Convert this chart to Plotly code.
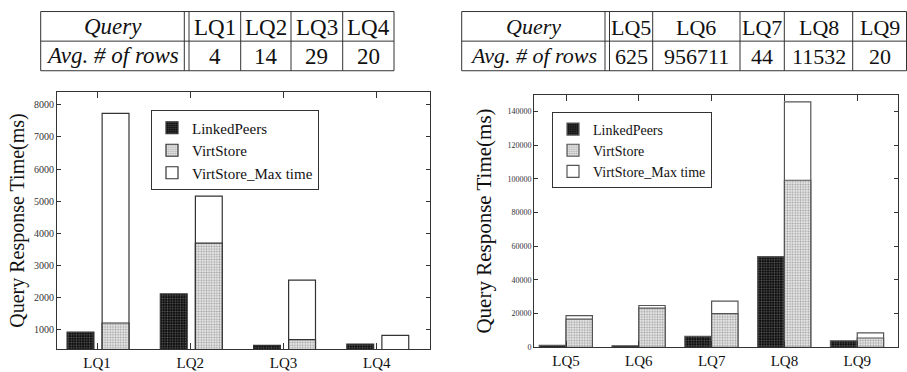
import plotly.graph_objects as go

# ---------------- data ----------------
queries_left = ["LQ1", "LQ2", "LQ3", "LQ4"]
rows_left = ["4", "14", "29", "20"]
linkedpeers_left = [930, 2120, 520, 560]
virtstore_left = [1215, 3700, 700, 350]
virtstore_max_left = [7730, 5160, 2550, 830]

queries_right = ["LQ5", "LQ6", "LQ7", "LQ8", "LQ9"]
rows_right = ["625", "956711", "44", "11532", "20"]
linkedpeers_right = [1200, 900, 6500, 53800, 3800]
virtstore_right = [16700, 23200, 20000, 99200, 5500]
virtstore_max_right = [18800, 24800, 27400, 145800, 8500]

left_yticks = [1000, 2000, 3000, 4000, 5000, 6000, 7000, 8000]
right_yticks = [0, 20000, 40000, 60000, 80000, 100000, 120000, 140000]

W, H = 907, 372
SERIF = "Liberation Serif, Times New Roman, serif"


def px(x):
    return x / W


def py(y):
    return 1 - y / H


fig = go.Figure()

lp_pattern = dict(shape=".", bgcolor="#0a0a0a", fgcolor="#5e5e5e", size=2.6, solidity=0.35, fillmode="replace")
vs_pattern = dict(shape=".", bgcolor="#e8e8e8", fgcolor="#9a9a9a", size=2.6, solidity=0.35, fillmode="replace")


def add_panel(cats, lp, vs, vmax, xa, ya, leg, lp_off, vs_off, bw, line_col):
    fig.add_trace(go.Bar(
        x=cats, y=vmax, name="VirtStore_Max time", xaxis=xa, yaxis=ya, legend=leg,
        offset=vs_off, width=bw, legendrank=3,
        marker=dict(color="white", line=dict(color=line_col, width=1.2)),
    ))
    fig.add_trace(go.Bar(
        x=cats, y=vs, name="VirtStore", xaxis=xa, yaxis=ya, legend=leg,
        offset=vs_off, width=bw, legendrank=2,
        marker=dict(color="#e8e8e8", pattern=vs_pattern, line=dict(color=line_col, width=1.2)),
    ))
    fig.add_trace(go.Bar(
        x=cats, y=lp, name="LinkedPeers", xaxis=xa, yaxis=ya, legend=leg,
        offset=lp_off, width=bw, legendrank=1,
        marker=dict(color="#0a0a0a", pattern=lp_pattern, line=dict(color=line_col, width=1.2)),
    ))


add_panel(queries_left, linkedpeers_left, virtstore_left, virtstore_max_left,
          "x", "y", "legend", -0.322, 0.054, 0.288, "#333333")
add_panel(queries_right, linkedpeers_right, virtstore_right, virtstore_max_right,
          "x2", "y2", "legend2", -0.368, 0.0, 0.362, "#555555")

axis_common = dict(showline=True, linecolor="#333333", linewidth=1, mirror="ticks",
                   ticks="inside", tickcolor="#333333", showgrid=False, zeroline=False)

fig.update_layout(
    width=W, height=H, margin=dict(l=0, r=0, t=0, b=0),
    paper_bgcolor="white", plot_bgcolor="white",
    barmode="overlay", showlegend=True,
    font=dict(family=SERIF, color="#111111"),
    xaxis=dict(domain=[px(57), px(430)], anchor="y", range=[-0.43, 3.57],
               tickfont=dict(size=15, family=SERIF, color="#111"), ticklen=6, **axis_common),
    yaxis=dict(domain=[py(354), py(93)], anchor="x", range=[400, 8400],
               tickvals=left_yticks, tickformat="d",
               tickfont=dict(size=10, family=SERIF, color="#333"), ticklen=4,
               title=dict(text="Query Response Time(ms)", font=dict(size=20, family=SERIF, color="#111"), standoff=3),
               **axis_common),
    xaxis2=dict(domain=[px(534), px(898)], anchor="y2", range=[-0.44, 4.56],
                tickfont=dict(size=15, family=SERIF, color="#111"), ticklen=6, **axis_common),
    yaxis2=dict(domain=[py(352), py(96)], anchor="x2", range=[0, 150000],
                tickvals=right_yticks, tickformat="d",
                tickfont=dict(size=8, family=SERIF, color="#333"), ticklen=4,
                title=dict(text="Query Response Time(ms)", font=dict(size=21, family=SERIF, color="#111"), standoff=10),
                **axis_common),
    legend=dict(x=px(151), y=py(112), xanchor="left", yanchor="top",
                bordercolor="#333", borderwidth=1, bgcolor="white",
                font=dict(size=15, family=SERIF, color="#111"), tracegroupgap=0,
                itemwidth=30),
    legend2=dict(x=px(552), y=py(114), xanchor="left", yanchor="top",
                 bordercolor="#333", borderwidth=1, bgcolor="white",
                 font=dict(size=14, family=SERIF, color="#111"), tracegroupgap=0,
                 itemwidth=30),
)

# ---------------- tables (drawn as layout lines + text) ----------------
line_style = dict(color="#333333", width=1)


def add_text(text, x, y, fs):
    fig.add_annotation(text=text, x=px(x), y=py(y), xref="paper", yref="paper",
                       xanchor="center", yanchor="middle", showarrow=False,
                       font=dict(size=fs, family=SERIF, color="#111"))


def draw_table(x_edges, y_top, y_mid, y_bot, x_first_left, x_first_right, heads, vals, fs):
    fig.add_shape(type="rect", xref="paper", yref="paper",
                  x0=px(x_first_left), x1=px(x_edges[-1]), y0=py(y_bot), y1=py(y_top),
                  line=line_style)
    fig.add_shape(type="line", xref="paper", yref="paper",
                  x0=px(x_first_left), x1=px(x_edges[-1]), y0=py(y_mid), y1=py(y_mid), line=line_style)
    for xe in [x_first_right] + x_edges[:-1]:
        fig.add_shape(type="line", xref="paper", yref="paper",
                      x0=px(xe), x1=px(xe), y0=py(y_bot), y1=py(y_top), line=line_style)
    cx0 = (x_first_left + x_first_right) / 2
    add_text("<i>Query</i>", cx0, (y_top + y_mid) / 2, fs)
    add_text("<i>Avg. # of rows</i>", cx0, (y_mid + y_bot) / 2, fs)
    for i, (h, v) in enumerate(zip(heads, vals)):
        cx = (x_edges[i] + x_edges[i + 1]) / 2
        add_text(h, cx, (y_top + y_mid) / 2 + 1, fs)
        add_text(v, cx, (y_mid + y_bot) / 2 + 1, fs)


draw_table([189, 240.7, 291, 342.7, 394], 11.7, 41.7, 71.7, 40.7, 184.3, queries_left, rows_left, 23)
draw_table([609.5, 652.7, 740, 784.3, 852.7, 906.5], 11.7, 41.7, 71.7, 461.7, 605, queries_right, rows_right, 22)

fig.write_html("out.html", config={"displayModeBar": False},
               post_script="document.body.style.margin='0';document.body.style.overflow='hidden';")
